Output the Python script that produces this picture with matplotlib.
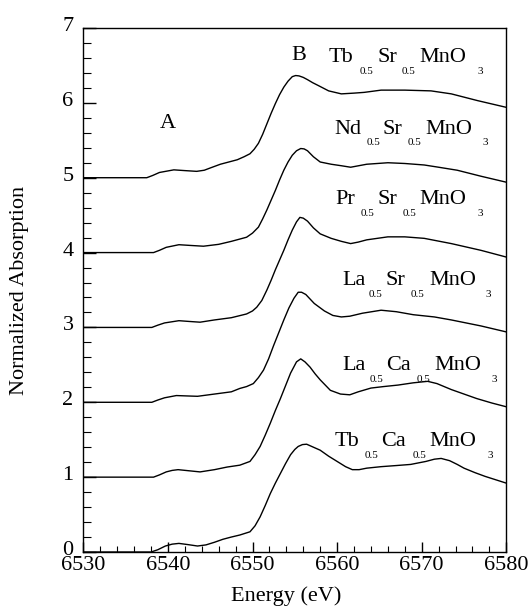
import matplotlib
matplotlib.use("Agg")
import matplotlib.pyplot as plt
from matplotlib.ticker import MultipleLocator
from matplotlib.transforms import offset_copy, ScaledTranslation

plt.rcParams["font.family"] = ["Liberation Serif", "DejaVu Serif"]

# Mn K-edge XANES spectra (unshifted absorption)
energy_tbca = [6530, 6538.0, 6538.8, 6539.7, 6540.5, 6541.3, 6542.3, 6543.5, 6544.5, 6545.5,
               6546.5, 6547.5, 6548.5, 6549.7, 6550.3, 6550.9, 6551.5, 6552.1, 6552.7, 6553.3,
               6553.9, 6554.5, 6555.0, 6555.4, 6555.9, 6556.4, 6557.2, 6558.0, 6559.0, 6560.0,
               6561.0, 6561.8, 6562.6, 6563.5, 6565.2, 6567.0, 6568.7, 6570.5, 6571.5, 6572.3,
               6573.3, 6574.2, 6575.0, 6576.3, 6577.5, 6580]
mu_tbca = [0.0, 0.0, 0.03, 0.08, 0.105, 0.115, 0.10, 0.08, 0.095, 0.13,
           0.17, 0.20, 0.227, 0.27, 0.35, 0.47, 0.62, 0.78, 0.92, 1.05,
           1.18, 1.30, 1.37, 1.41, 1.435, 1.44, 1.40, 1.36, 1.28, 1.21,
           1.14, 1.10, 1.10, 1.12, 1.14, 1.155, 1.17, 1.21, 1.24, 1.25,
           1.22, 1.17, 1.12, 1.06, 1.01, 0.92]

energy_laca = [6530, 6538.3, 6539.0, 6539.8, 6540.5, 6541.2, 6542.5, 6543.8, 6545.5, 6547.0,
               6548.5, 6549.7, 6550.3, 6550.9, 6551.5, 6552.1, 6552.7, 6553.3, 6553.9, 6554.5,
               6555.2, 6555.7, 6556.2, 6556.8, 6557.4, 6558.0, 6559.2, 6560.4, 6561.5, 6562.5,
               6564.0, 6565.5, 6567.2, 6569.0, 6570.7, 6571.8, 6573.5, 6575.0, 6576.5, 6578.3,
               6580]
mu_laca = [0.0, 0.0, 0.03, 0.07, 0.09, 0.10, 0.085, 0.07, 0.10, 0.135,
           0.16, 0.21, 0.30, 0.41, 0.56, 0.72, 0.89, 1.05, 1.22, 1.39,
           1.54, 1.58, 1.54, 1.47, 1.38, 1.30, 1.16, 1.11, 1.10, 1.14,
           1.19, 1.21, 1.23, 1.26, 1.28, 1.25, 1.17, 1.11, 1.05, 0.99,
           0.94]

energy_lasr = [6530, 6538.1, 6538.8, 6539.6, 6541.0, 6542.2, 6543.5, 6545.5, 6547.5, 6548.5,
               6549.3, 6550.1, 6550.7, 6551.3, 6551.9, 6552.5, 6553.1, 6553.7, 6554.3, 6554.9,
               6555.4, 6555.8, 6556.3, 6557.3, 6558.5, 6559.5, 6560.5, 6561.5, 6563.0, 6565.2,
               6567.0, 6569.0, 6571.5, 6573.5, 6577.0, 6580]
mu_lasr = [0.0, 0.0, 0.03, 0.06, 0.09, 0.085, 0.08, 0.11, 0.14, 0.185,
           0.21, 0.25, 0.33, 0.43, 0.58, 0.76, 0.93, 1.10, 1.26, 1.39,
           1.47, 1.47, 1.44, 1.32, 1.22, 1.16, 1.14, 1.15, 1.19, 1.23,
           1.21, 1.17, 1.14, 1.10, 1.02, 0.94]

energy_prsr = [6530, 6538.1, 6538.8, 6539.6, 6541.3, 6542.5, 6543.8, 6545.5, 6547.5, 6549.3,
               6550.0, 6550.5, 6551.1, 6551.7, 6552.2, 6552.7, 6553.2, 6553.7, 6554.2, 6554.7,
               6555.2, 6555.6, 6556.0, 6556.5, 6557.2, 6558.0, 6559.3, 6560.5, 6561.6, 6562.5,
               6563.5, 6566.0, 6568.0, 6570.3, 6573.5, 6577.0, 6580]
mu_prsr = [0.0, 0.0, 0.03, 0.06, 0.09, 0.08, 0.07, 0.10, 0.13, 0.18,
           0.22, 0.27, 0.36, 0.50, 0.63, 0.77, 0.90, 1.03, 1.17, 1.30,
           1.41, 1.47, 1.46, 1.42, 1.33, 1.25, 1.19, 1.15, 1.12, 1.14,
           1.17, 1.21, 1.21, 1.19, 1.12, 1.03, 0.94]

energy_ndsr = [6530, 6538.3, 6539.0, 6539.8, 6541.3, 6542.7, 6544.2, 6546.0, 6547.5, 6549.3,
               6550.0, 6550.7, 6551.2, 6551.7, 6552.2, 6552.7, 6553.2, 6553.7, 6554.2, 6554.7,
               6555.2, 6555.7, 6556.1, 6556.5, 6557.2, 6558.0, 6559.3, 6560.5, 6561.6, 6563.5,
               6566.0, 6568.0, 6570.3, 6572.0, 6574.2, 6577.0, 6580]
mu_ndsr = [0.0, 0.0, 0.03, 0.07, 0.105, 0.095, 0.085, 0.11, 0.15, 0.205,
           0.26, 0.34, 0.45, 0.57, 0.70, 0.83, 0.97, 1.10, 1.21, 1.30,
           1.36, 1.39, 1.385, 1.36, 1.28, 1.21, 1.18, 1.16, 1.14, 1.18,
           1.20, 1.19, 1.17, 1.14, 1.10, 1.02, 0.94]

energy_tbsr = [6530, 6537.5, 6538.2, 6539.0, 6540.7, 6542.0, 6543.4, 6544.3, 6545.0, 6546.2,
               6547.2, 6548.2, 6549.0, 6549.7, 6550.2, 6550.7, 6551.2, 6551.7, 6552.2, 6552.7,
               6553.2, 6553.7, 6554.2, 6554.7, 6555.1, 6555.5, 6556.0, 6556.5, 6557.1, 6557.8,
               6559.0, 6560.5, 6562.0, 6563.2, 6565.2, 6568.0, 6571.1, 6573.5, 6576.6, 6580]
mu_tbsr = [0.0, 0.0, 0.03, 0.07, 0.105, 0.095, 0.085, 0.10, 0.13, 0.18,
           0.21, 0.24, 0.28, 0.32, 0.38, 0.46, 0.58, 0.72, 0.86, 0.99,
           1.11, 1.21, 1.29, 1.35, 1.365, 1.36, 1.34, 1.31, 1.27, 1.23,
           1.16, 1.12, 1.13, 1.14, 1.17, 1.17, 1.16, 1.12, 1.03, 0.94]

energies = [energy_tbca, energy_laca, energy_lasr, energy_prsr, energy_ndsr, energy_tbsr]
spectra = [mu_tbca, mu_laca, mu_lasr, mu_prsr, mu_ndsr, mu_tbsr]
offsets = [0, 1, 2, 3, 4, 5]

# formula labels: (A-site, B-site) of A0.5B0.5MnO3
a_site = ["Tb", "La", "La", "Pr", "Nd", "Tb"]
b_site = ["Ca", "Ca", "Sr", "Sr", "Sr", "Sr"]
label_x = [6559.72, 6560.61, 6560.61, 6559.83, 6559.63, 6559.04]
label_y = [1.411, 2.434, 3.565, 4.646, 5.59, 6.546]
# horizontal pixel offsets of each formula piece from the label start
piece_dx = [
    [0, 30.3, 46.7, 77.7, 95.0, 152.7],
    [0, 27.7, 44.3, 74.3, 91.7, 149.3],
    [0, 26.7, 43.3, 68.3, 86.7, 143.3],
    [0, 25.0, 42.3, 66.7, 83.3, 141.7],
    [0, 32.7, 48.3, 73.3, 91.7, 148.3],
    [0, 31.0, 48.3, 72.3, 90.0, 148.3],
]

fig = plt.figure(figsize=(5.28, 6.06), dpi=100)
ax = fig.add_axes([0.1578, 0.0891, 0.8011, 0.8647])

for e, mu, off in zip(energies, spectra, offsets):
    ax.plot(e, [m + off for m in mu], color="black", lw=1.0)

ax.set_xlim(6530, 6580)
ax.set_ylim(0, 7)
ax.xaxis.set_major_locator(MultipleLocator(10))
ax.xaxis.set_minor_locator(MultipleLocator(2))
ax.yaxis.set_major_locator(MultipleLocator(1))
ax.yaxis.set_minor_locator(MultipleLocator(0.2))
ax.tick_params(axis="both", which="both", direction="in", top=False, right=False,
               labelsize=16, color="black")
ax.tick_params(axis="x", which="major", length=7.2, width=1.0, pad=3)
ax.tick_params(axis="x", which="minor", length=4.2, width=0.8)
ax.tick_params(axis="y", which="major", length=9.4, width=1.0, pad=7)
ax.tick_params(axis="y", which="minor", length=5.5, width=0.8)
for sp in ax.spines.values():
    sp.set_linewidth(1.0)

# y tick labels sit a little above their ticks in the original
lift = ScaledTranslation(0, 4 / 100, fig.dpi_scale_trans)
for lbl in ax.get_yticklabels():
    lbl.set_transform(lbl.get_transform() + lift)

ax.set_xlabel("Energy (eV)", fontsize=16)
ax.set_ylabel("Normalized Absorption", fontsize=16)
ax.xaxis.set_label_coords(0.48, -0.066)
ax.yaxis.set_label_coords(-0.128, 0.5)

ax.text(6539.0, 5.661, "A", fontsize=16, va="baseline", ha="left")
ax.text(6554.59, 6.578, "B", fontsize=16, va="baseline", ha="left")

for a, b, x, y, dxs in zip(a_site, b_site, label_x, label_y, piece_dx):
    pieces = [(a, False), ("0.5", True), (b, False), ("0.5", True), ("MnO", False), ("3", True)]
    for (txt, sub), dx in zip(pieces, dxs):
        tr = offset_copy(ax.transData, fig=fig, x=dx * 0.72, y=-8.6 if sub else 0,
                         units="points")
        ax.text(x, y, txt, transform=tr, fontsize=8 if sub else 16,
                va="baseline", ha="left")

fig.savefig("out.png", dpi=100)
